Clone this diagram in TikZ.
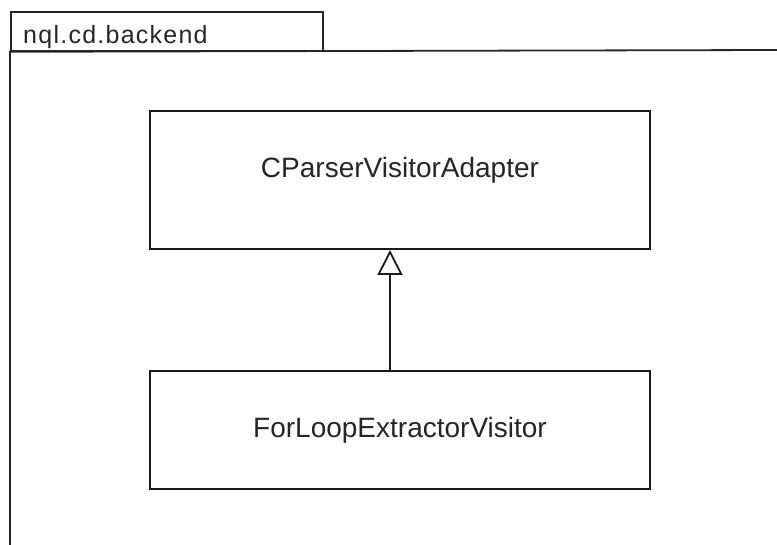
\documentclass[tikz,border=0pt]{standalone}
\usepackage{fontspec}
\setmainfont{Liberation Sans}
\newfontfamily\tabfont[LetterSpace=5]{Liberation Sans}
\usetikzlibrary{arrows.meta}
\begin{document}
\begin{tikzpicture}[x=1pt,y=-1pt,
  frameline/.style={draw=black!85,line width=1.8pt},
  classbox/.style={draw=black!90,line width=2pt,minimum width=500pt,inner sep=0pt},
  classname/.style={inner sep=0pt,font=\fontsize{28}{30}\selectfont,text=black!85},
  inherit/.style={draw=black!90,line width=1.8pt,-{Triangle[open,length=25pt,width=25pt,line width=1.8pt]}}]
\useasboundingbox (0,0) rectangle (777,545);
\node[frameline,minimum width=312pt,minimum height=39pt,inner sep=0pt,anchor=north west] (tab) at (10,11) {};
\node[anchor=base west,inner sep=0pt,font=\tabfont\fontsize{25}{28}\selectfont,text=black!85] (pkgname) at (23,43.3) {nql.cd.backend};
\coordinate (fr) at (777,50);
\coordinate (fb) at (10,546);
\draw[frameline] (fr) -- (tab.south west) -- (fb);
\node[classbox,minimum height=138pt] (parent) at (400,180) {};
\node[classname] (parentname) at (400,170) {CParserVisitorAdapter};
\node[classbox,minimum height=118pt] (child) at (400,430) {};
\node[classname] (childname) at (400,430) {ForLoopExtractorVisitor};
\draw[inherit] (child.north -| 390,0) -- (parent.south -| 390,0);
\end{tikzpicture}
\end{document}
